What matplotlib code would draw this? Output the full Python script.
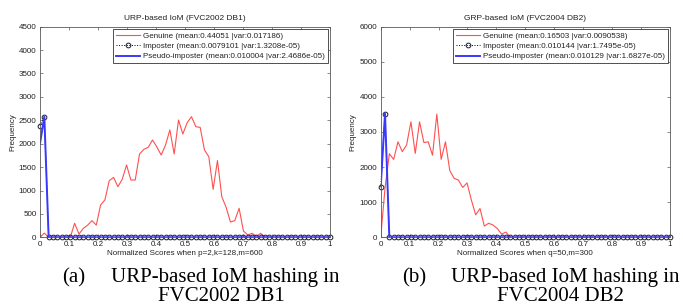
import numpy as np
import matplotlib
matplotlib.use("Agg")
import matplotlib.pyplot as plt

plt.rcParams['font.family'] = ['Liberation Sans', 'DejaVu Sans']

# normalized score bins (68 points from 0 to 1)
scores = np.linspace(0, 1, 68)

# (a) URP-based IoM, FVC2002 DB1
urp_genuine = [0, 90, 0, 0, 0, 0, 0, 0, 300, 70,
               190, 260, 355, 260, 690, 800, 1210, 1280, 1080, 1240,
               1545, 1224, 1224, 1780, 1880, 1923, 2079, 1930, 1758, 1972,
               2293, 1780, 2506, 2207, 2449, 2577, 2363, 2349, 1865, 1722,
               1025, 1640, 868, 641, 327, 355, 620, 135, 50, 85,
               20, 85, 0, 0, 0, 0, 0, 0, 0, 0,
               0, 0, 0, 0, 0, 0, 0, 0]
urp_imposter = [2385, 2560, 0, 0, 0, 0, 0, 0, 0, 0,
                0, 0, 0, 0, 0, 0, 0, 0, 0, 0,
                0, 0, 0, 0, 0, 0, 0, 0, 0, 0,
                0, 0, 0, 0, 0, 0, 0, 0, 0, 0,
                0, 0, 0, 0, 0, 0, 0, 0, 0, 0,
                0, 0, 0, 0, 0, 0, 0, 0, 0, 0,
                0, 0, 0, 0, 0, 0, 0, 0]
urp_pseudo = [2000, 2580, 0, 0, 0, 0, 0, 0, 0, 0,
              0, 0, 0, 0, 0, 0, 0, 0, 0, 0,
              0, 0, 0, 0, 0, 0, 0, 0, 0, 0,
              0, 0, 0, 0, 0, 0, 0, 0, 0, 0,
              0, 0, 0, 0, 0, 0, 0, 0, 0, 0,
              0, 0, 0, 0, 0, 0, 0, 0, 0, 0,
              0, 0, 0, 0, 0, 0, 0, 0]
urp_labels = ["Genuine (mean:0.44051 |var:0.017186)",
              "Imposter (mean:0.0079101 |var:1.3208e-05)",
              "Pseudo-imposter (mean:0.010004 |var:2.4686e-05)"]

# (b) GRP-based IoM, FVC2004 DB2
grp_genuine = [0, 1400, 2380, 2220, 2720, 2440, 2630, 3290, 2390, 3290,
               2700, 2720, 2340, 3510, 2220, 2720, 1900, 1680, 1630, 1420,
               1550, 1060, 640, 820, 320, 400, 350, 250, 90, 150,
               0, 0, 0, 0, 0, 0, 0, 0, 0, 0,
               0, 0, 0, 0, 0, 0, 0, 0, 0, 0,
               0, 0, 0, 0, 0, 0, 0, 0, 0, 0,
               0, 0, 0, 0, 0, 0, 0, 0]
grp_imposter = [1425, 3510, 0, 0, 0, 0, 0, 0, 0, 0,
                0, 0, 0, 0, 0, 0, 0, 0, 0, 0,
                0, 0, 0, 0, 0, 0, 0, 0, 0, 0,
                0, 0, 0, 0, 0, 0, 0, 0, 0, 0,
                0, 0, 0, 0, 0, 0, 0, 0, 0, 0,
                0, 0, 0, 0, 0, 0, 0, 0, 0, 0,
                0, 0, 0, 0, 0, 0, 0, 0]
grp_pseudo = [1430, 3530, 0, 0, 0, 0, 0, 0, 0, 0,
              0, 0, 0, 0, 0, 0, 0, 0, 0, 0,
              0, 0, 0, 0, 0, 0, 0, 0, 0, 0,
              0, 0, 0, 0, 0, 0, 0, 0, 0, 0,
              0, 0, 0, 0, 0, 0, 0, 0, 0, 0,
              0, 0, 0, 0, 0, 0, 0, 0, 0, 0,
              0, 0, 0, 0, 0, 0, 0, 0]
grp_labels = ["Genuine (mean:0.16503 |var:0.0090538)",
              "Imposter (mean:0.010144 |var:1.7495e-05)",
              "Pseudo-imposter (mean:0.010129 |var:1.6827e-05)"]

xticks = [0, 0.1, 0.2, 0.3, 0.4, 0.5, 0.6, 0.7, 0.8, 0.9, 1]
xtick_labels = ["0", "0.1", "0.2", "0.3", "0.4", "0.5", "0.6", "0.7", "0.8", "0.9", "1"]

FS = 5.8


def draw_panel(ax, genuine, imposter, pseudo, labels, title, xlabel, ymax, ystep):
    ax.plot(scores, genuine, color="#ff5050", lw=0.8, label=labels[0])
    ax.plot(scores, imposter, color="k", ls=":", lw=0.7, marker="o", ms=3.4,
            mfc="none", mec="#1a1a30", mew=0.7, clip_on=False, label=labels[1])
    ax.plot(scores, pseudo, color="#3838ff", lw=1.4, label=labels[2])
    ax.set_xlim(0, 1)
    ax.set_ylim(0, ymax)
    ax.set_xticks(xticks)
    ax.set_xticklabels(xtick_labels)
    ax.set_yticks(np.arange(0, ymax + 1, ystep))
    ax.tick_params(direction="in", length=2, width=0.5, labelsize=FS, pad=2.5,
                   top=True, right=True, colors="0.35", labelcolor="#222222")
    for s in ax.spines.values():
        s.set_linewidth(0.6)
        s.set_color("0.35")
    ax.set_title(title, fontsize=FS + 0.2, pad=5, color="#222222")
    ax.set_xlabel(xlabel, fontsize=FS, labelpad=1.5, color="#222222")
    ax.set_ylabel("Frequency", fontsize=FS, labelpad=2, color="#222222")
    leg = ax.legend(loc="upper right", fontsize=FS, fancybox=False, framealpha=1,
                    edgecolor="#333333", borderaxespad=0.3, borderpad=0.35,
                    labelspacing=0.35, handlelength=3.0, handletextpad=0.3,
                    numpoints=1)
    leg.get_frame().set_linewidth(0.6)
    for t in leg.get_texts():
        t.set_color("#222222")


fig = plt.figure(figsize=(6.83, 3.05), dpi=100)
W, H = 683.0, 305.0
ax1 = fig.add_axes([40 / W, 1 - 237.3 / H, 290 / W, 210.6 / H])
ax2 = fig.add_axes([380.7 / W, 1 - 237.3 / H, 289.3 / W, 210.6 / H])

draw_panel(ax1, urp_genuine, urp_imposter, urp_pseudo, urp_labels,
           "URP-based IoM (FVC2002 DB1)", "Normalized Scores when p=2,k=128,m=600", 4500, 500)
draw_panel(ax2, grp_genuine, grp_imposter, grp_pseudo, grp_labels,
           "GRP-based IoM (FVC2004 DB2)", "Normalized Scores when q=50,m=300", 6000, 1000)

# captions
cap = dict(family="Liberation Serif", fontsize=15, va="baseline")
fig.text(62 / W, 1 - 282 / H, "(a)", ha="left", **cap)
fig.text(111 / W, 1 - 282 / H, "URP-based IoM hashing in", ha="left", **cap)
fig.text(221 / W, 1 - 301 / H, "FVC2002 DB1", ha="center", **cap)
fig.text(402 / W, 1 - 282 / H, "(b)", ha="left", **cap)
fig.text(451 / W, 1 - 282 / H, "URP-based IoM hashing in", ha="left", **cap)
fig.text(560 / W, 1 - 301 / H, "FVC2004 DB2", ha="center", **cap)

fig.savefig("out.png", dpi=100)
